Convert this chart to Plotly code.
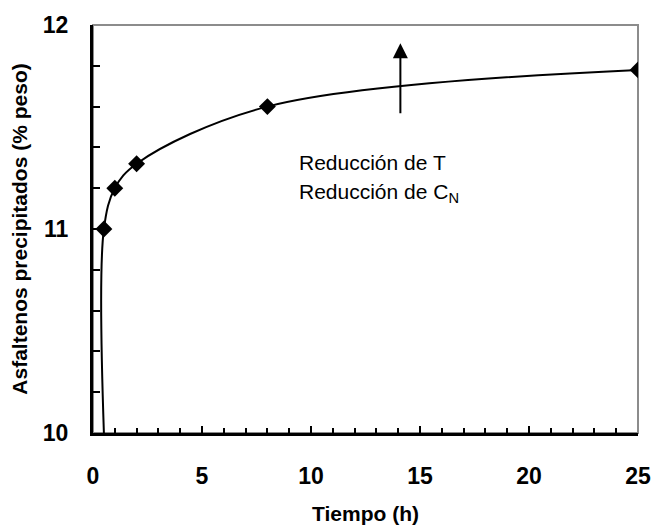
import plotly.graph_objects as go

# Measured precipitation over time
tiempo_h = [0.5, 1, 2, 8, 25]
asfaltenos_pct = [11.0, 11.2, 11.32, 11.6, 11.78]

# Smoothed trend: starts at the axis floor at the first sampling time
curva_t = [0.5] + tiempo_h
curva_y = [10.0] + asfaltenos_pct

x_ticks = [0, 5, 10, 15, 20, 25]
y_ticks = [10, 11, 12]

FONT = "Liberation Sans, Arial, sans-serif"

fig = go.Figure()

fig.add_trace(go.Scatter(
    x=curva_t, y=curva_y, mode="lines",
    line=dict(color="black", width=2, shape="spline", smoothing=1.0),
    hoverinfo="skip", showlegend=False,
))
fig.add_trace(go.Scatter(
    x=tiempo_h, y=asfaltenos_pct, mode="markers",
    marker=dict(symbol="diamond", size=13, color="black"),
    showlegend=False,
))

# gray frame on top/right
fig.add_shape(type="rect", xref="x domain", yref="y domain", x0=0, x1=1, y0=0, y1=1,
              line=dict(color="#8c8c8c", width=2), layer="below")

# arrow and text
fig.add_annotation(x=14.1, y=11.91, ax=14.1, ay=11.56, xref="x", yref="y", axref="x", ayref="y",
                   showarrow=True, arrowhead=2, arrowsize=1.5, arrowwidth=2, arrowcolor="black", text="")
fig.add_annotation(x=9.37, y=11.325, xref="x", yref="y", xanchor="left", yanchor="middle",
                   showarrow=False, align="left", text="Reducción de T",
                   font=dict(family=FONT, size=21, color="black"))
fig.add_annotation(x=9.37, y=11.175, xref="x", yref="y", xanchor="left", yanchor="middle",
                   showarrow=False, align="left", text="Reducción de C<sub>N</sub>",
                   font=dict(family=FONT, size=21, color="black"))

fig.update_xaxes(
    range=[0, 25], tickmode="array", tickvals=x_ticks,
    ticktext=[str(v) for v in x_ticks],
    ticks="inside", ticklen=7, tickwidth=2, tickcolor="black",
    minor=dict(dtick=1, tick0=0, ticks="inside", ticklen=5, tickwidth=1.5, tickcolor="black"),
    showline=True, linecolor="black", linewidth=3, showgrid=False, zeroline=False,
    tickfont=dict(family=FONT, size=23, color="black", weight=700),
    ticklabelstandoff=20, automargin=False,
    title=dict(text="<b>Tiempo (h)</b>", font=dict(family=FONT, size=21, color="black"), standoff=19),
)
fig.update_yaxes(
    range=[10, 12], tickmode="array", tickvals=y_ticks,
    ticktext=[str(v) for v in y_ticks],
    ticks="inside", ticklen=7, tickwidth=2, tickcolor="black",
    minor=dict(dtick=0.2, tick0=10, ticks="inside", ticklen=7, tickwidth=2, tickcolor="black"),
    showline=True, linecolor="black", linewidth=3, showgrid=False, zeroline=False,
    tickfont=dict(family=FONT, size=23, color="black", weight=700),
    ticklabelstandoff=17, automargin=False,
    title=dict(text="<b>Asfaltenos precipitados (% peso)</b>", font=dict(family=FONT, size=21, color="black"), standoff=10),
)

fig.update_layout(
    width=654, height=525,
    margin=dict(l=93, r=16, t=25, b=92, autoexpand=False),
    plot_bgcolor="white", paper_bgcolor="white",
    font=dict(family=FONT),
)

fig.write_html("out.html")
